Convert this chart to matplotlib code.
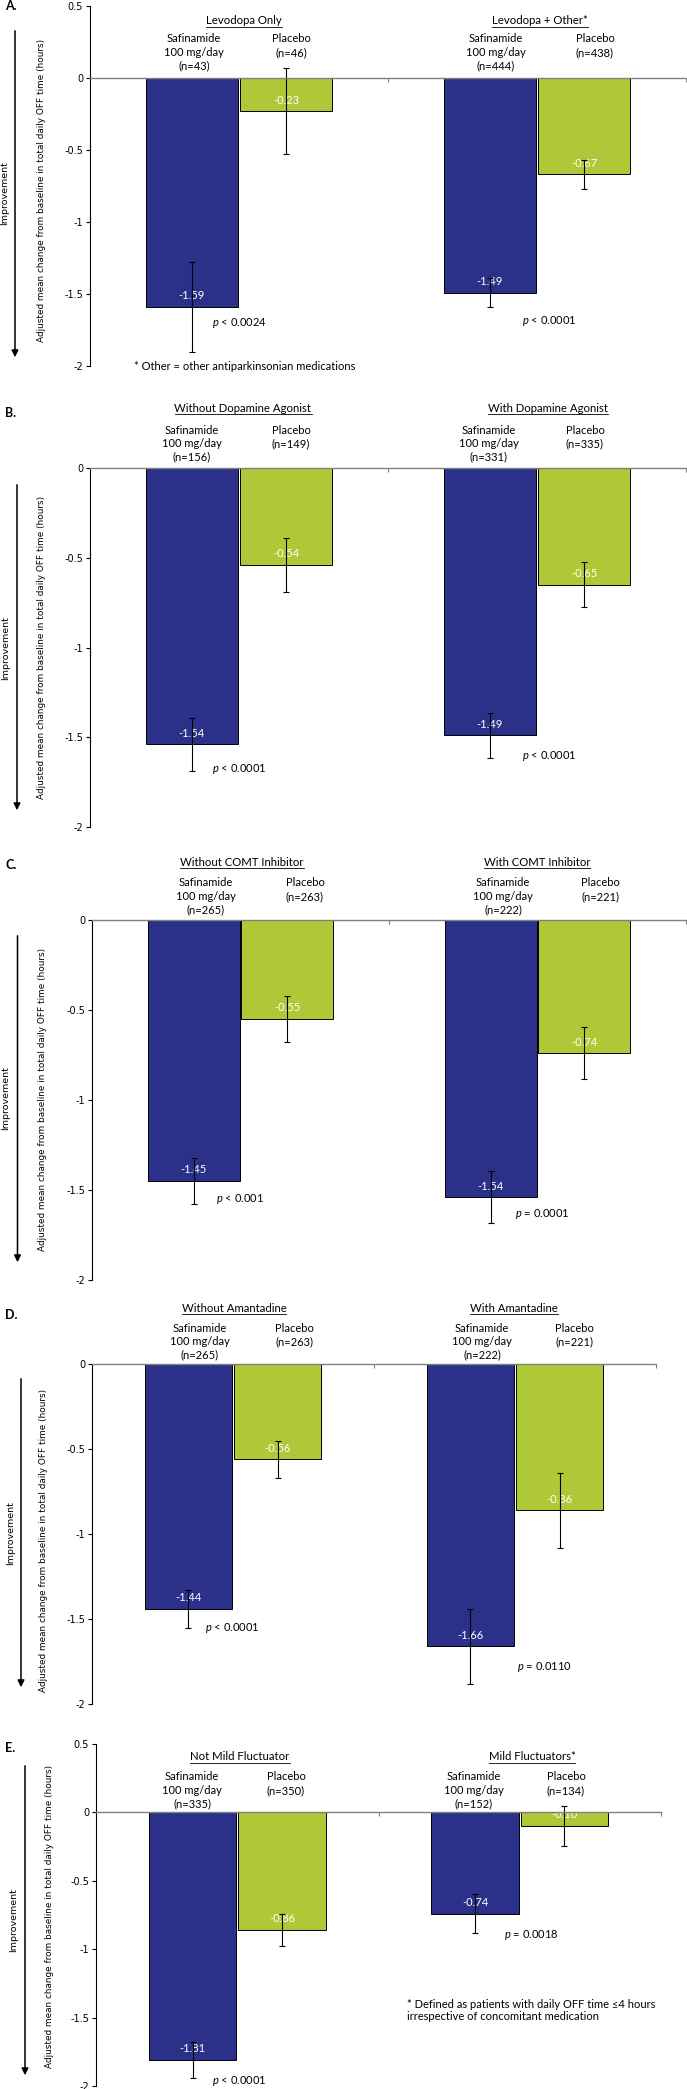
import matplotlib
matplotlib.use("Agg")
import matplotlib.pyplot as plt
import matplotlib.transforms as mtransforms

W, H = 687, 2089

# data
panel_letters = ["A.", "B.", "C.", "D.", "E."]
group_names = [
    ["Levodopa Only", "Levodopa + Other*"],
    ["Without Dopamine Agonist", "With Dopamine Agonist"],
    ["Without COMT Inhibitor", "With COMT Inhibitor"],
    ["Without Amantadine", "With Amantadine"],
    ["Not Mild Fluctuator", "Mild Fluctuators*"],
]
n_safinamide = [[43, 444], [156, 331], [265, 222], [265, 222], [335, 152]]
n_placebo = [[46, 438], [149, 335], [263, 221], [263, 221], [350, 134]]
safinamide_mean = [[-1.59, -1.49], [-1.54, -1.49], [-1.45, -1.54], [-1.44, -1.66], [-1.81, -0.74]]
safinamide_err = [[0.31, 0.10], [0.15, 0.125], [0.13, 0.145], [0.11, 0.22], [0.13, 0.14]]
placebo_mean = [[-0.23, -0.67], [-0.54, -0.65], [-0.55, -0.74], [-0.56, -0.86], [-0.86, -0.10]]
placebo_err = [[0.30, 0.10], [0.15, 0.125], [0.13, 0.145], [0.11, 0.22], [0.12, 0.145]]
p_values = [["< 0.0024", "< 0.0001"], ["< 0.0001", "< 0.0001"], ["< 0.001", "= 0.0001"],
            ["< 0.0001", "= 0.0110"], ["< 0.0001", "= 0.0018"]]
footnotes = [["* Other = other antiparkinsonian medications"], [], [], [],
             ["* Defined as patients with daily OFF time \u22644 hours",
              "irrespective of concomitant medication"]]

# layout in pixels (from top-left)
layout = [
    dict(box=(90, 686, 6, 366), ylim=(-2, 0.5), letter=6, head_y=21, head_x=(244, 540),
         n_y=39, n_x=(194, 291, 496, 595), p_xy=((239, 323), (549, 321)),
         foot=(134, 366), imp=(5, 193), arrow=(15, 28, 360), ylab=(42, 190)),
    dict(box=(90, 686, 468, 827), ylim=(-2, 0), letter=413, head_y=408, head_x=(243, 548),
         n_y=430, n_x=(192, 291, 489, 585), p_xy=((239, 769), (549, 756)),
         foot=None, imp=(6, 648), arrow=(17, 482, 813), ylab=(42, 647)),
    dict(box=(92, 686, 920, 1280), ylim=(-2, 0), letter=865, head_y=862, head_x=(242, 537),
         n_y=883, n_x=(206, 305, 503, 600), p_xy=((240, 1199), (542, 1214)),
         foot=None, imp=(6, 1098), arrow=(17.5, 933, 1265), ylab=(43, 1099)),
    dict(box=(92, 656, 1364, 1704), ylim=(-2, 0), letter=1315, head_y=1308, head_x=(234, 514),
         n_y=1328, n_x=(200, 294, 482, 574), p_xy=((232, 1628), (544, 1667)),
         foot=None, imp=(11, 1533), arrow=(21, 1376, 1690), ylab=(44, 1540)),
    dict(box=(96, 661, 1744, 2086), ylim=(-2, 0.5), letter=1748, head_y=1757, head_x=(240, 532),
         n_y=1777, n_x=(192, 286, 474, 566), p_xy=((239, 2081), (531, 1935)),
         foot=(407, 2004), imp=(14, 1920), arrow=(25, 1763, 2078), ylab=(50, 1916)),
]

NAVY = "#2B3088"
LIME = "#AFC837"
TXT = ["Lato", "DejaVu Sans"]

plt.rcParams["mathtext.fontset"] = "custom"
plt.rcParams["mathtext.it"] = "Lato:italic"
plt.rcParams["mathtext.rm"] = "Lato"

fig = plt.figure(figsize=(W / 100, H / 100), dpi=100)
px = mtransforms.Affine2D().scale(1 / W, -1 / H).translate(0, 1) + fig.transFigure

headers = []
for i in range(5):
    L = layout[i]
    left, right, top, bottom = L["box"]
    ax = fig.add_axes([left / W, 1 - bottom / H, (right - left) / W, (bottom - top) / H])
    xs = [0, 1]
    off, bw = 0.158, 0.31
    ax.bar([x - off for x in xs], safinamide_mean[i], width=bw, color=NAVY,
           edgecolor="black", linewidth=0.7, zorder=2)
    ax.bar([x + off for x in xs], placebo_mean[i], width=bw, color=LIME,
           edgecolor="black", linewidth=0.7, zorder=2)
    ax.errorbar([x - off for x in xs], safinamide_mean[i], yerr=safinamide_err[i], fmt="none",
                ecolor="black", elinewidth=0.8, capsize=2.2, capthick=0.8, zorder=4)
    ax.errorbar([x + off for x in xs], placebo_mean[i], yerr=placebo_err[i], fmt="none",
                ecolor="black", elinewidth=0.8, capsize=2.2, capthick=0.8, zorder=4)
    for j in range(2):
        for xc, v in ((xs[j] - off, safinamide_mean[i][j]), (xs[j] + off, placebo_mean[i][j])):
            ax.annotate(f"{v:.2f}", (xc, v), xytext=(0, 8), textcoords="offset points",
                        ha="center", va="center", color="white", fontsize=8, family=TXT, zorder=3)

    ax.set_xlim(-0.5, 1.5)
    ax.set_ylim(*L["ylim"])
    ax.set_yticks([t / 2 for t in range(int(L["ylim"][0] * 2), int(L["ylim"][1] * 2) + 1)])
    ax.set_yticklabels([f"{t:g}" for t in ax.get_yticks()], fontsize=7, family="DejaVu Sans")
    ax.set_xticks([0.5, 1.5])
    ax.set_xticklabels([])
    ax.tick_params(axis="x", direction="out", length=3, width=0.8, color="#808080")
    ax.tick_params(axis="y", direction="out", length=3, width=0.8, pad=2)
    ax.spines["top"].set_visible(False)
    ax.spines["right"].set_visible(False)
    ax.spines["bottom"].set_position(("data", 0))
    ax.spines["bottom"].set_color("#808080")
    ax.spines["bottom"].set_linewidth(1.0)
    ax.spines["bottom"].set_zorder(5)
    ax.spines["left"].set_linewidth(0.8)

    # panel letter
    fig.text(5, L["letter"], panel_letters[i], transform=px, fontsize=9, fontweight="bold",
             family=TXT, ha="left", va="center")
    # group headers (underlined later)
    for j in range(2):
        t = fig.text(L["head_x"][j], L["head_y"], group_names[i][j], transform=px, fontsize=8.2,
                     family=TXT, ha="center", va="center")
        headers.append(t)
    # treatment labels
    lines = [["Safinamide", "100 mg/day", f"(n={n_safinamide[i][0]})"],
             ["Placebo", f"(n={n_placebo[i][0]})"],
             ["Safinamide", "100 mg/day", f"(n={n_safinamide[i][1]})"],
             ["Placebo", f"(n={n_placebo[i][1]})"]]
    for k in range(4):
        for m, s in enumerate(lines[k]):
            fig.text(L["n_x"][k], L["n_y"] + 13.3 * m, s, transform=px, fontsize=8,
                     family=TXT, ha="center", va="center")
    # p-values
    for j in range(2):
        px_, py_ = L["p_xy"][j]
        fig.text(px_, py_, r"$\it{p}$ " + p_values[i][j], transform=px, fontsize=8,
                 family=TXT, ha="center", va="center")
    # footnote
    if L["foot"] is not None:
        for m, s in enumerate(footnotes[i]):
            fig.text(L["foot"][0], L["foot"][1] + 12.7 * m, s, transform=px, fontsize=8,
                     family=TXT, ha="left", va="center")
    # improvement arrow
    ix, iy = L["imp"]
    fig.text(ix, iy, "Improvement", transform=px, rotation=90, fontsize=6.8,
             family="DejaVu Sans", ha="center", va="center")
    axx, ay0, ay1 = L["arrow"]
    fig.add_artist(matplotlib.patches.FancyArrowPatch(
        (axx / W, 1 - ay0 / H), (axx / W, 1 - ay1 / H), transform=fig.transFigure,
        arrowstyle="-|>,head_length=4,head_width=2", mutation_scale=1, linewidth=1.1,
        color="black"))
    # y label
    yx, yy = L["ylab"]
    fig.text(yx, yy, "Adjusted mean change from baseline in total daily OFF time (hours)",
             transform=px, rotation=90, fontsize=6.4, family="DejaVu Sans",
             ha="center", va="center")

# underline group headers
fig.canvas.draw()
r = fig.canvas.get_renderer()
for t in headers:
    bb = t.get_window_extent(r)
    y = bb.y0 - 0.5
    fig.add_artist(matplotlib.lines.Line2D([bb.x0 / W, bb.x1 / W], [y / H, y / H],
                                           transform=fig.transFigure, color="black",
                                           linewidth=0.6))

fig.savefig("out.png", dpi=100)
